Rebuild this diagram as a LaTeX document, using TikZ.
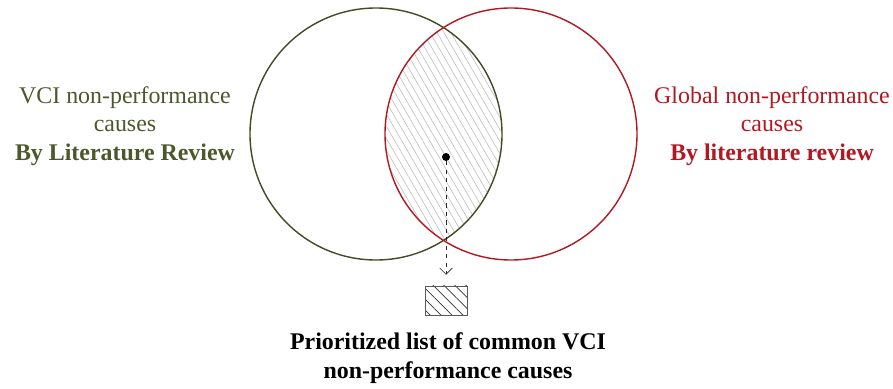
\documentclass[tikz,border=0pt]{standalone}
\usepackage{fontspec}
\setmainfont{Liberation Serif}
\usepackage{xcolor}
\usepackage{tikz}
\usetikzlibrary{positioning,arrows.meta,patterns.meta,backgrounds}
\definecolor{vcigreen}{RGB}{76,88,44}
\definecolor{glbred}{RGB}{178,24,34}

\begin{document}
\begin{tikzpicture}[
    setcircle/.style={circle, line width=1pt, minimum size=6.3cm, inner sep=0pt},
    settext/.style={align=center, font=\fontsize{17}{20.5}\selectfont}
]
    \useasboundingbox (0,0) rectangle (22.325,9.7);

    % Two sets of causes
    \node[setcircle, draw=vcigreen!85!black] (vci) at (9.4,6.35) {};
    \node[setcircle, draw=glbred] (glb) at (12.775,6.35) {};

    % Overlap of the two sets
    \begin{scope}[on background layer]
        \clip (vci.center) circle (3.15);
        \fill[pattern={Lines[angle=-60,distance=4.3pt,line width=0.4pt]}, pattern color=gray!55] (glb.center) circle (3.15);
    \end{scope}

    % Labels of the sets
    \node[settext, text=vcigreen] (vcitxt) at (3.125,6.55) {VCI non-performance\\causes\\\textbf{By Literature Review}};
    \node[settext, text=glbred] (glbtxt) at (19.3,6.55) {Global non-performance\\causes\\\textbf{By literature review}};

    % Result of the overlap
    \node[circle, fill=black, inner sep=0pt, minimum size=0.2cm] (dot) at (11.15,5.775) {};
    \node[draw=gray!70!black, minimum width=1.05cm, minimum height=0.725cm, pattern={Lines[angle=-45,distance=5.5pt,line width=0.5pt]}, pattern color=gray!40!black] (lst) at (11.15,2.19) {};
    \draw[dashed, gray!30!black, -{Straight Barb[length=4.5pt,width=9pt]}, shorten >=0.27cm] (dot) -- (lst);
    \node[settext, font=\fontsize{17}{20.5}\selectfont\bfseries] (lsttxt) at (11.2,0.74) {Prioritized list of common VCI\\non-performance causes};
\end{tikzpicture}
\end{document}
